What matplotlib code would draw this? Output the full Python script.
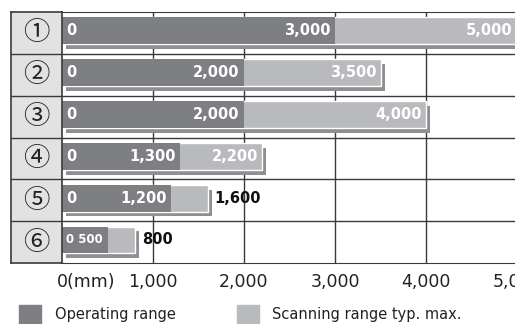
import matplotlib.pyplot as plt
import matplotlib.transforms as mtransforms
from matplotlib.patches import Rectangle

rows = ['①', '②', '③', '④', '⑤', '⑥']
operating = [3000, 2000, 2000, 1300, 1200, 500]
scanning = [5000, 3500, 4000, 2200, 1600, 800]
op_labels = ['3,000', '2,000', '2,000', '1,300', '1,200', '500']
sc_labels = ['5,000', '3,500', '4,000', '2,200', '1,600', '800']
sc_inside = [True, True, True, True, False, False]
xticks = [1000, 2000, 3000, 4000, 5000]
xtick_labels = ['1,000', '2,000', '3,000', '4,000', '5,000']

dark = '#7e7f82'
light = '#b9babd'
shadow = '#8e8f91'
grid_c = '#3a3a3a'

W, H = 515, 324
fig = plt.figure(figsize=(W / 100, H / 100), dpi=100)

x0, x5, ytop, ybot = 62, 517, 12, 263
ax = fig.add_axes([x0 / W, 1 - ybot / H, (x5 - x0) / W, (ybot - ytop) / H])
axl = fig.add_axes([11 / W, 1 - ybot / H, (x0 - 11) / W, (ybot - ytop) / H])

n = len(rows)
ax.set_xlim(0, 5000)
ax.set_ylim(n, 0)
axl.set_xlim(0, 1)
axl.set_ylim(n, 0)

for i in range(1, 6):
    ax.axvline(i * 1000, color=grid_c, lw=1, zorder=0)
for i in range(1, n):
    ax.axhline(i, color=grid_c, lw=1, zorder=0)
    axl.axhline(i, color=grid_c, lw=1)

for s in ['top', 'bottom']:
    ax.spines[s].set_color(grid_c)
for s in ['right', 'left']:
    ax.spines[s].set_visible(False)
for s in axl.spines.values():
    s.set_color(grid_c)
    s.set_linewidth(1.2)
axl.set_facecolor('#e2e2e2')
axl.set_xticks([])
axl.set_yticks([])

for i, r in enumerate(rows):
    axl.text(0.5, i + 0.5, r, ha='center', va='center', fontsize=19,
             family=['Noto Sans CJK JP', 'DejaVu Sans'], color='#222222')

ypos = [i + 0.45 for i in range(n)]
bh = 0.64
sh = mtransforms.offset_copy(ax.transData, fig, x=3, y=-3.5, units='points')
ax.barh(ypos, scanning, height=bh, color=shadow, transform=sh, zorder=2)
ax.barh(ypos, scanning, height=bh, color=light, edgecolor='white', lw=1, zorder=3)
ax.barh(ypos, operating, height=bh, color=dark, zorder=4)

txt = dict(color='white', fontweight='bold', va='center', zorder=5,
           textcoords='offset points', family='DejaVu Sans')
for i in range(n):
    y = ypos[i]
    if i == n - 1:
        ax.annotate('0 ' + op_labels[i], (0, y), xytext=(3, 0), ha='left',
                    fontsize=8.5, **txt)
    else:
        ax.annotate('0', (0, y), xytext=(3, 0), ha='left', fontsize=10.5, **txt)
        ax.annotate(op_labels[i], (operating[i], y), xytext=(-3, 0), ha='right',
                    fontsize=10.5, **txt)
    if sc_inside[i]:
        ax.annotate(sc_labels[i], (scanning[i], y), xytext=(-3, 0), ha='right',
                    fontsize=10.5, **txt)
    else:
        ax.annotate(sc_labels[i], (scanning[i], y), xytext=(5, 0), ha='left',
                    fontsize=10.5, color='#111111', fontweight='bold',
                    va='center', textcoords='offset points')

ax.set_yticks([])
ax.set_xticks(xticks)
ax.set_xticklabels(xtick_labels, fontsize=12.5, color='#222222')
ax.tick_params(axis='x', length=0, pad=7)
ax.annotate('0(mm)', (0, n), xytext=(-4, -7), textcoords='offset points',
            ha='left', va='top', fontsize=12.5, color='#222222',
            annotation_clip=False)

fig.patches.append(Rectangle((19 / W, 0), 22 / W, 19 / H, color=dark,
                             transform=fig.transFigure))
fig.patches.append(Rectangle((237 / W, 0), 22 / W, 19 / H, color=light,
                             transform=fig.transFigure))
fig.text(55 / W, 1 - 314 / H, 'Operating range', fontsize=10.5,
         color='#222222', va='center')
fig.text(272 / W, 1 - 314 / H, 'Scanning range typ. max.', fontsize=10.5,
         color='#222222', va='center')

fig.savefig('out.png', dpi=100)
